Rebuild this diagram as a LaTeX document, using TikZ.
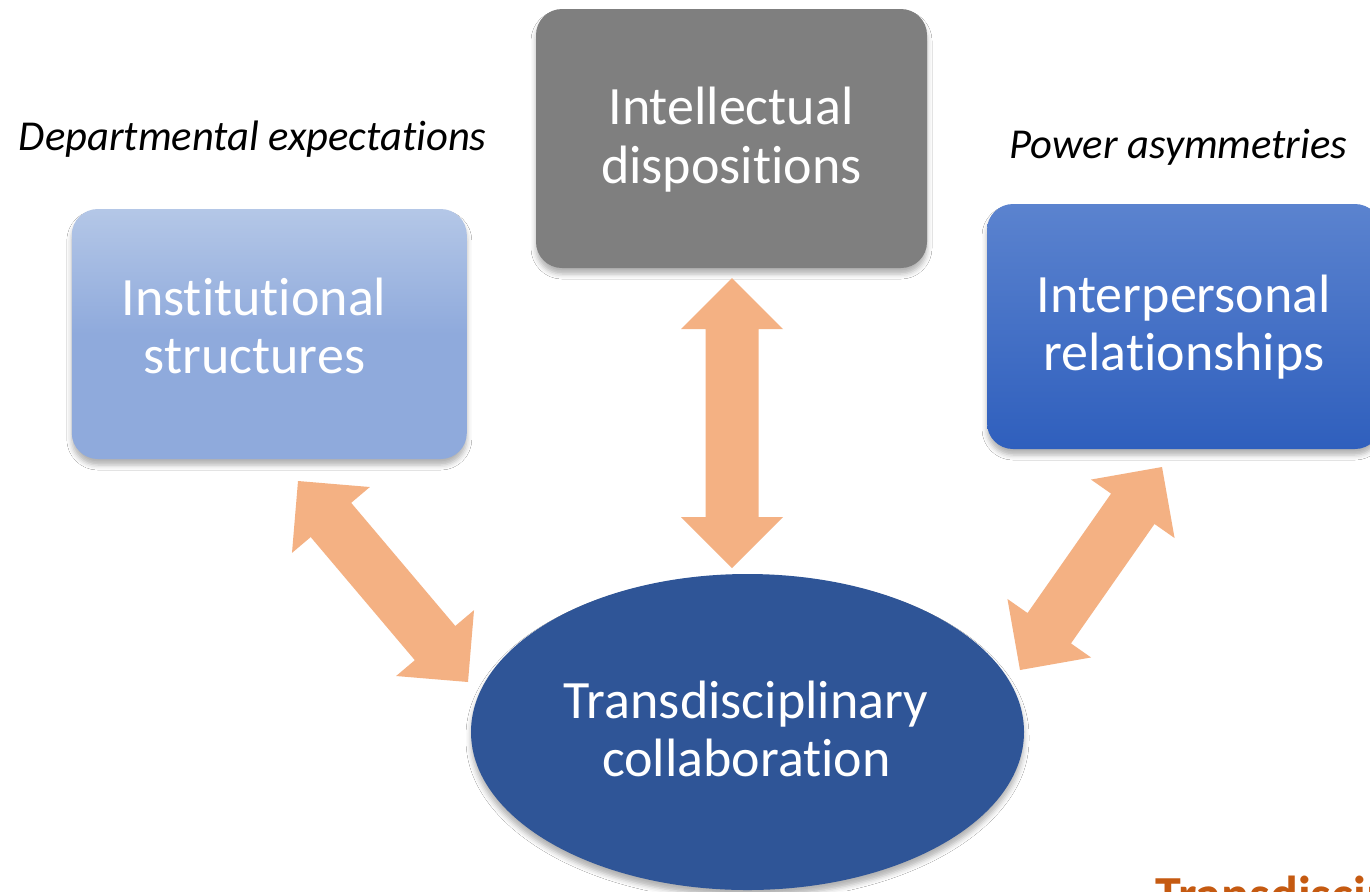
\documentclass[tikz,border=0pt]{standalone}
\usepackage{fontspec}
\setmainfont{Carlito}[Ligatures=NoCommon]
\usetikzlibrary{calc,shapes.geometric,shadows.blur}

\definecolor{instTop}{HTML}{B4C7E7}
\definecolor{instBot}{HTML}{8FAADC}
\definecolor{interTop}{HTML}{5B83CF}
\definecolor{interBot}{HTML}{2F5FBD}
\definecolor{intelGray}{HTML}{7F7F7F}
\definecolor{collabBlue}{HTML}{2F5597}
\definecolor{arrowOrange}{HTML}{F4B183}
\definecolor{titleOrange}{HTML}{C55A11}

% light upper half fading into a flat lower half
\pgfdeclareverticalshading{instshade}{100bp}{%
  color(0bp)=(instBot); color(25bp)=(instBot); color(50bp)=(instBot);
  color(75bp)=(instTop); color(100bp)=(instTop)}

% block arrow dimensions
\newcommand\arrHeadLen{25.5pt}
\newcommand\arrHeadHalf{25.5pt}
\newcommand\arrShaftHalf{13.25pt}

% double-headed block arrow between two named coordinates
\newcommand\dblblockarrow[2]{%
  \fill[arrowfill] (#1)
    -- ($(#1)!\arrHeadLen!(#2)!\arrHeadHalf!90:(#2)$)
    -- ($(#1)!\arrHeadLen!(#2)!\arrShaftHalf!90:(#2)$)
    -- ($(#2)!\arrHeadLen!(#1)!\arrShaftHalf!90:(#2)$)
    -- ($(#2)!\arrHeadLen!(#1)!\arrHeadHalf!90:(#2)$)
    -- (#2)
    -- ($(#2)!\arrHeadLen!(#1)!\arrHeadHalf!-90:(#2)$)
    -- ($(#2)!\arrHeadLen!(#1)!\arrShaftHalf!-90:(#2)$)
    -- ($(#1)!\arrHeadLen!(#2)!\arrShaftHalf!-90:(#2)$)
    -- ($(#1)!\arrHeadLen!(#2)!\arrHeadHalf!-90:(#2)$)
    -- cycle;}

\tikzset{
  softshadow/.style={blur shadow={shadow xshift=0pt, shadow yshift=-3pt,
      shadow blur radius=2.5pt, shadow blur extra rounding=1pt,
      shadow opacity=30}},
  factorbox/.style={rectangle, rounded corners=13pt, draw=none, inner sep=0pt,
      softshadow},
  boxtext/.style={font=\fontsize{27}{29}\selectfont, text=white,
      inner sep=0pt, anchor=base},
  sidelabel/.style={font=\itshape\fontsize{21.3}{25}\selectfont, text=black,
      inner sep=0pt, anchor=base west},
  arrowfill/.style={fill=arrowOrange},
}

\begin{document}
\begin{tikzpicture}[x=0.5pt, y=-0.5pt]
  \useasboundingbox (0,0) rectangle (1370,891);
  \clip (0,0) rectangle (1370,891);
  \fill[white] (0,0) rectangle (1370,891);

  % three factor boxes
  \node[factorbox, shading=instshade, minimum width=197.5pt, minimum height=125pt]
    (inst) at (269.3,334) {};
  \node[factorbox, fill=intelGray, minimum width=195.5pt, minimum height=129.5pt]
    (intel) at (731.5,138.5) {};
  \node[factorbox, top color=interTop, bottom color=interBot,
        minimum width=197pt, minimum height=122.5pt]
    (inter) at (1184,326.5) {};

  % central ellipse
  \node[ellipse, fill=collabBlue, draw=none, inner sep=0pt, softshadow,
        minimum width=276.5pt, minimum height=158pt]
    (collab) at (747.5,732) {};

  % box captions
  \node[boxtext] (inst-a) at (254,315) {Institutional};
  \node[boxtext] (inst-b) at (254.5,373) {structures};
  \node[boxtext] (intel-a) at (731,124) {Intellectual};
  \node[boxtext] (intel-b) at (731.5,183) {dispositions};
  \node[boxtext] (inter-a) at (1184,312) {Interpersonal};
  \node[boxtext] (inter-b) at (1184,370) {relationships};
  \node[boxtext] (collab-a) at (746,718.5) {Transdisciplinary};
  \node[boxtext] (collab-b) at (746.5,776.5) {collaboration};

  % italic side labels
  \node[sidelabel] (dept) at (18.5,150) {Departmental expectations};
  \node[sidelabel] (power) at (1009,158) {Power asymmetries};

  % heading running off the lower edge
  \node[font=\bfseries\fontsize{26}{30}\selectfont, text=titleOrange,
        inner sep=0pt, anchor=base west] (footer) at (1155,912) {Transdisciplinary};

  % arrow end points
  \coordinate (v-top) at (732,278);
  \coordinate (v-bot) at (732,568);
  \coordinate (l-top) at (298,481);
  \coordinate (l-bot) at (468,682);
  \coordinate (r-top) at (1162,467);
  \coordinate (r-bot) at (1020,670);

  % double-headed block arrows
  \dblblockarrow{v-top}{v-bot}
  \dblblockarrow{l-top}{l-bot}
  \dblblockarrow{r-top}{r-bot}
\end{tikzpicture}
\end{document}
